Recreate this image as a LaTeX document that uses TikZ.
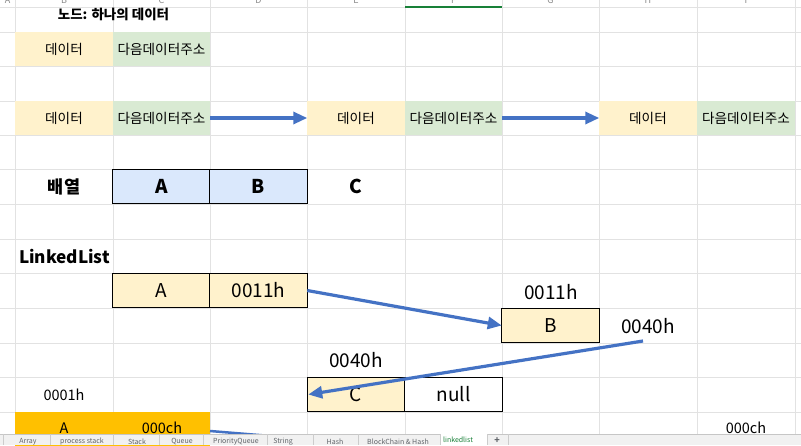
\documentclass[tikz,border=0pt]{standalone}
\usepackage{fontspec}
\setmainfont{Noto Sans CJK KR}
\usetikzlibrary{arrows.meta}
\definecolor{cellyellow}{HTML}{FFF2CC}
\definecolor{cellgreen}{HTML}{D9EAD3}
\definecolor{cellblue}{HTML}{DAE8FC}
\definecolor{cellorange}{HTML}{FFC000}
\definecolor{arrowblue}{HTML}{4472C4}
\definecolor{gridgray}{HTML}{E2E2E2}
\definecolor{tabbg}{HTML}{F1F1F1}
\definecolor{tabtext}{HTML}{5F6368}
\definecolor{activegreen}{HTML}{188038}
\definecolor{headgray}{HTML}{8A8A8A}
\begin{document}
\begin{tikzpicture}[x=1pt,y=-1pt,
  gridline/.style={draw=gridgray, line width=0.9pt},
  cell/.style={minimum width=97.5pt, minimum height=34.5pt, inner sep=0pt, outer sep=0pt, anchor=center},
  kor/.style={font=\fontsize{13.6}{15}\selectfont},
  big/.style={font=\fontsize{19}{22}\selectfont},
  bigbold/.style={font=\fontsize{19}{22}\selectfont\bfseries},
  small/.style={font=\fontsize{14.5}{17}\selectfont},
  boxed/.style={draw=black, line width=0.9pt},
  arrowline/.style={draw=arrowblue, line width=3.2pt, -{Triangle[length=14pt,width=12pt]}},
  plainline/.style={draw=arrowblue, line width=2.5pt},
  headletter/.style={font=\fontsize{9}{10}\selectfont, text=headgray, anchor=base, inner sep=0pt},
  tablabel/.style={font=\fontsize{7}{8}\selectfont, text=tabtext, inner sep=0pt},
  tabsep/.style={draw=gray!40, line width=0.6pt}
]
\useasboundingbox (0,0) rectangle (801,445);
\clip (0,0) rectangle (801,445);
\fill[white] (0,0) rectangle (801,445);

% grid
\foreach \x in {15,113,210,307,405,502,599,697,795}
  \draw[gridline] (\x,0) -- (\x,434);
\foreach \y in {7,32,66,101,135,169,204,239,273,308,343,377,412}
  \draw[gridline] (0,\y) -- (801,\y);
\draw[draw=activegreen, line width=1.6pt] (405,7) -- (502,7);

% column letters (cut at the top, as in the screenshot)
\foreach \x/\l [count=\i] in {7.5/A,64/B,161.5/C,258.5/D,356/E,453.5/F,550.5/G,648/H,746/I}
  \node[headletter] (hd\i) at (\x,3.5) {\l};

% title
\node[font=\fontsize{13.5}{15}\selectfont\bfseries, inner sep=0pt] (title) at (113.5,14.5) {노드: 하나의 데이터};

% row 2
\node[cell, fill=cellyellow, kor] (b2) at (64,49) {데이터};
\node[cell, fill=cellgreen, kor] (c2) at (161.5,49) {다음데이터주소};

% row 4
\node[cell, fill=cellyellow, kor] (b4) at (64,118) {데이터};
\node[cell, fill=cellgreen, kor] (c4) at (161.5,118) {다음데이터주소};
\node[cell, fill=cellyellow, kor] (e4) at (356,118) {데이터};
\node[cell, fill=cellgreen, kor] (f4) at (453.5,118) {다음데이터주소};
\node[cell, fill=cellyellow, kor] (h4) at (648,118) {데이터};
\node[cell, fill=cellgreen, kor] (i4) at (746,118) {다음데이터주소};
\draw[arrowline] (c4.east) -- (e4.west);
\draw[arrowline] (f4.east) -- (h4.west);

% array row
\node[font=\fontsize{17.5}{20}\selectfont\bfseries, inner sep=0pt] (arrlabel) at (64,186.5) {배열};
\node[cell, fill=cellblue, boxed, bigbold] (arra) at (161.5,186.5) {A};
\node[cell, fill=cellblue, boxed, bigbold] (arrb) at (258.5,186.5) {B};
\node[cell, bigbold] (arrc) at (356,186.5) {C};

% linked list
\node[font=\fontsize{17.2}{20}\selectfont\bfseries, inner sep=0pt] (lltitle) at (64.5,256) {LinkedList};
\node[cell, fill=cellyellow, boxed, big] (lla) at (161.5,290.5) {A};
\node[cell, fill=cellyellow, boxed, big] (lld) at (258.5,290.5) {0011h};
\node[big, inner sep=0pt] (addr1) at (551,292) {0011h};
\node[cell, fill=cellyellow, boxed, big] (llb) at (550.5,325.5) {B};
\node[big, inner sep=0pt] (addr2) at (648,326) {0040h};
\node[big, inner sep=0pt] (addr3) at (356,360) {0040h};
\node[cell, fill=cellyellow, boxed, big] (llc) at (356,394.5) {C};
\node[cell, fill=white, boxed, big] (lln) at (453.5,394.5) {null};
\node[small, inner sep=0pt] (addr4) at (64,395) {0001h};

\coordinate (p40) at (643,341);
\draw[arrowline] (lld.east) -- (llb.west);
\draw[arrowline] (p40) -- ([xshift=1pt]llc.west);

% bottom partial row
\node[cell, fill=cellorange, small] (oa) at (64,429.5) {};
\node[cell, fill=cellorange, small] (oc) at (161.5,429.5) {};
\node[small, inner sep=0pt] (oatext) at (64,428) {A};
\node[small, inner sep=0pt] (octext) at (162,428) {000ch};
\node[small, inner sep=0pt] (addr5) at (746,428) {000ch};
\coordinate (ostart) at (210,431);
\coordinate (oend) at (320,440);
\draw[plainline] (ostart) -- (oend);

% sheet tab bar
\fill[tabbg] (0,434) rectangle (801,445);
\draw[draw=gray!45, line width=0.6pt] (0,434) -- (801,434);
\fill[white] (440,433) rectangle (487,445);
\foreach \x in {3,50,113,159,203,267,313,358,440,487,508}
  \draw[tabsep] (\x,434) -- (\x,445);
\foreach \x/\t [count=\i] in {28/Array,82/process stack,137/Stack,182/Queue,236/PriorityQueue,283/String,335/Hash,398/BlockChain \& Hash}
  \node[tablabel] (tab\i) at (\x,441.5) {\t};
\node[tablabel, text=activegreen] (tabactive) at (458,440) {linkedlist};
\node[font=\fontsize{9}{10}\selectfont\bfseries, text=tabtext, inner sep=0pt] (tabplus) at (497,441) {+};
\end{tikzpicture}
\end{document}
